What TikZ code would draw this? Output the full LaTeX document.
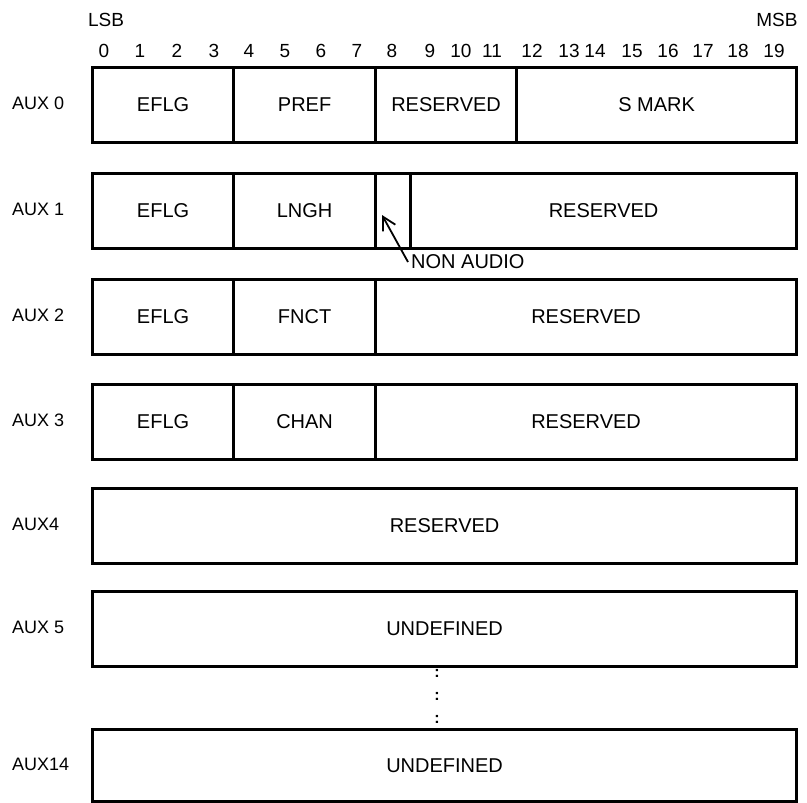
\documentclass[tikz,border=0pt]{standalone}
\usepackage{fontspec}
\setmainfont{Liberation Sans}
\usetikzlibrary{arrows.meta}
\begin{document}
\begin{tikzpicture}[x=1pt,y=-1pt,
  field/.style={draw,line width=3.2pt,anchor=north west,inner sep=0pt,minimum height=75pt,font=\fontsize{20}{24}\selectfont},
  auxlabel/.style={anchor=west,inner sep=0pt,font=\fontsize{18}{22}\selectfont},
  bitnum/.style={inner sep=0pt,font=\fontsize{19}{23}\selectfont},
  dotsym/.style={inner sep=0pt,font=\fontsize{16}{18}\selectfont\bfseries}]
\useasboundingbox (0,0) rectangle (807,803);
% header
\node[bitnum] (lsb) at (106,20) {LSB};
\node[bitnum] (msb) at (777,20) {MSB};
\foreach \n/\x in {0/104,1/140,2/177,3/214,4/249,5/285,6/321,7/357,8/392,9/430,10/461,11/492,12/532,13/569,14/595,15/632,16/668,17/703,18/738,19/774}{
  \node[bitnum] (b\n) at (\x,51) {\n};
}
% AUX 0
\node[auxlabel] (l0) at (12,103.5) {AUX 0};
\node[field,minimum width=141pt] (a0f1) at (91,66) {EFLG};
\node[field,minimum width=142pt] (a0f2) at (232,66) {PREF};
\node[field,minimum width=141pt] (a0f3) at (374,66) {RESERVED};
\node[field,minimum width=280pt] (a0f4) at (515,66) {S MARK};
% AUX 1
\node[auxlabel] (l1) at (12,209.5) {AUX 1};
\node[field,minimum width=141pt] (a1f1) at (91,172) {EFLG};
\node[field,minimum width=142pt] (a1f2) at (232,172) {LNGH};
\node[field,minimum width=35pt] (a1f3) at (374,172) {};
\node[field,minimum width=386pt] (a1f4) at (409,172) {RESERVED};
\coordinate (natip) at (382,215);
\node[anchor=west,inner sep=3pt,font=\fontsize{20}{24}\selectfont] (na) at (408,262) {NON AUDIO};
\draw[line width=1.8pt,-{Straight Barb[length=13pt,width=14pt]}] (na.west) -- (natip);
% AUX 2
\node[auxlabel] (l2) at (12,315.5) {AUX 2};
\node[field,minimum width=141pt] (a2f1) at (91,278) {EFLG};
\node[field,minimum width=142pt] (a2f2) at (232,278) {FNCT};
\node[field,minimum width=421pt] (a2f3) at (374,278) {RESERVED};
% AUX 3
\node[auxlabel] (l3) at (12,420.5) {AUX 3};
\node[field,minimum width=141pt] (a3f1) at (91,383) {EFLG};
\node[field,minimum width=142pt] (a3f2) at (232,383) {CHAN};
\node[field,minimum width=421pt] (a3f3) at (374,383) {RESERVED};
% AUX 4
\node[auxlabel] (l4) at (12,524.5) {AUX4};
\node[field,minimum width=704pt] (a4f1) at (91,487) {RESERVED};
% AUX 5
\node[auxlabel] (l5) at (12,627.5) {AUX 5};
\node[field,minimum width=704pt] (a5f1) at (91,590) {UNDEFINED};
% dots
\node[dotsym] (d1) at (437,673) {:};
\node[dotsym] (d2) at (437,696) {:};
\node[dotsym] (d3) at (437,719) {:};
% AUX 14
\node[auxlabel] (l14) at (12,764) {AUX14};
\node[field,minimum width=704pt,minimum height=72pt] (a14f1) at (91,728) {UNDEFINED};
\end{tikzpicture}
\end{document}
